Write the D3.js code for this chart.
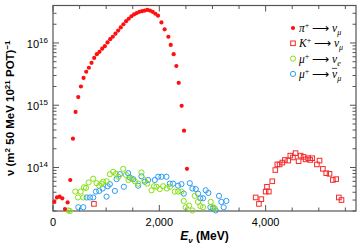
<!DOCTYPE html>
<html>
<head>
<meta charset="utf-8">
<script src="https://cdn.jsdelivr.net/npm/d3@7"></script>
<style>
  body { margin: 0; background: #fff; }
  svg { display: block; }
</style>
</head>
<body>
<svg width="363" height="250"></svg>
<script>
// neutrino energy (MeV) and flux per bin
var piE = [25,75,125,175,225,275,325,375,425,475,525,575,625,675,725,775,825,875,925,975,
  1025,1075,1125,1175,1225,1275,1325,1375,1425,1475,1525,1575,1625,1675,1725,1775,1825,1875,1925,1975,
  2040,2100,2170,2215,2270,2320,2365,2420,2465,2520];
var piFlux = [2.8e13,3.3e13,3.4e13,3.2e13,2.15e13,2.75e13,6.3e13,2.9e14,7.8e14,1.35e15,2.0e15,2.75e15,3.45e15,4.0e15,4.8e15,5.75e15,6.6e15,7.2e15,8.1e15,8.9e15,
  1.02e16,1.15e16,1.26e16,1.41e16,1.58e16,1.78e16,2.0e16,2.24e16,2.45e16,2.69e16,2.88e16,3.02e16,3.16e16,3.24e16,3.31e16,3.39e16,3.31e16,3.16e16,2.95e16,2.75e16,
  2.14e16,1.66e16,1.26e16,9.3e15,6.6e15,4.27e15,2.29e15,9.8e14,3.9e14,9.5e13];

var kE = [770,3812,3874,3919,4000,4025,4060,4125,4182,4220,4263,4314,4363,4426,4464,4514,4563,4620,4658,4714,
  4752,4802,4840,4877,4964,5014,5077,5140,5202,5265,5327,5377,5427];
var kFlux = [2.6e13,3.3e13,2.6e13,3.1e13,4.1e13,4.9e13,4.1e13,6.0e13,9.1e13,1.12e14,1.12e14,1.2e14,1.32e14,1.29e14,1.55e14,1.45e14,1.7e14,1.26e14,1.55e14,1.48e14,
  1.35e14,1.41e14,1.32e14,1.41e14,1.12e14,1.29e14,9.5e13,8.1e13,7.9e13,6.3e13,6.5e13,3.3e13,3.0e13];

var nueE = [288,319,419,470,520,570,582,620,670,757,820,870,914,945,1008,1070,1133,1183,1230,1321,
  1371,1420,1478,1540,1602,1664,1720,1771,1853,1900,1947,2009,2071,2140,2200,2291,2353,2416,2460,2497,
  2560,2623,2667,2729,2773,2823,2967,3011,3042];
var nueFlux = [2.04e13,2.0e13,4.1e13,3.3e13,4.1e13,3.3e13,4.8e13,4.7e13,5.75e13,6.6e13,5.6e13,5.1e13,5.5e13,5.9e13,6.0e13,7.8e13,8.5e13,7.9e13,7.1e13,9.5e13,
  7.6e13,6.3e13,6.6e13,6.0e13,5.5e13,8.3e13,6.3e13,5.5e13,4.3e13,5.0e13,4.9e13,4.5e13,5.0e13,4.6e13,4.9e13,4.1e13,4.1e13,4.1e13,2.9e13,2.3e13,
  2.45e13,2.04e13,3.5e13,2.8e13,2.4e13,2.3e13,2.8e13,2.3e13,2.2e13];

var numubE = [476,570,633,695,757,808,870,933,1008,1030,1070,1164,1196,1258,1333,1414,1446,1508,1602,1664,
  1727,1790,1915,1978,2040,2134,2197,2259,2353,2416,2460,2573,2623,2686,2729,2773,2823,2873,2923,2961,
  3011,3061,3123,3167,3211,3261];
var numubFlux = [2.3e13,2.3e13,3.3e13,3.3e13,3.3e13,4.1e13,4.2e13,4.6e13,3.4e13,5.0e13,5.4e13,4.2e13,6.5e13,7.8e13,4.9e13,8.1e13,6.9e13,6.5e13,5.1e13,7.2e13,
  5.9e13,6.3e13,6.3e13,7.1e13,7.1e13,7.1e13,5.5e13,5.5e13,5.1e13,5.4e13,3.8e13,5.6e13,4.6e13,4.5e13,3.8e13,3.2e13,3.2e13,4.3e13,3.9e13,2.3e13,
  2.2e13,2.04e13,3.5e13,2.8e13,2.3e13,2.9e13];

var xTicks = [0, 2000, 4000];
var yTicks = [1e14, 1e15, 1e16];

var svg = d3.select("svg");
var margin = {top: 5.5, right: 7, bottom: 39, left: 53};
var W = 363, H = 250;
var width = W - margin.left - margin.right;
var height = H - margin.top - margin.bottom;
var g = svg.append("g").attr("transform", "translate(" + margin.left + "," + margin.top + ")");

var x = d3.scaleLinear().domain([0, 5700]).range([0, width]);
var y = d3.scaleLog().domain([2e13, 4e16]).range([height, 0]);

var frame = "#555";
var minorX = d3.range(0, 5701, 500);
var minorY = [];
[13, 14, 15, 16].forEach(function(p){
    for (var m = 1; m < 10; m++){
        var v = m * Math.pow(10, p);
        if (v >= 2e13 && v <= 4e16) minorY.push(v);
    }
});

// ticks, all pointing inward
var tk = g.append("g").attr("stroke", frame).attr("stroke-width", 1);
minorX.forEach(function(v){
    var len = (v % 2000 == 0) ? 6 : 3.5;
    tk.append("line").attr("x1", x(v)).attr("x2", x(v)).attr("y1", height).attr("y2", height - len);
    tk.append("line").attr("x1", x(v)).attr("x2", x(v)).attr("y1", 0).attr("y2", len);
});
minorY.forEach(function(v){
    var major = yTicks.indexOf(v) >= 0;
    var len = major ? 6 : 3.5;
    tk.append("line").attr("x1", 0).attr("x2", len).attr("y1", y(v)).attr("y2", y(v));
    tk.append("line").attr("x1", width).attr("x2", width - len).attr("y1", y(v)).attr("y2", y(v));
});

g.append("rect").attr("width", width).attr("height", height)
    .attr("fill", "none").attr("stroke", frame).attr("stroke-width", 1.2);

// tick labels
g.selectAll(".xl").data(xTicks).enter().append("text")
    .attr("x", function(d){ return x(d); })
    .attr("y", height + 15)
    .attr("text-anchor", "middle")
    .attr("font-family", "Liberation Sans, Arial, sans-serif")
    .attr("font-size", 11)
    .text(function(d){ return d3.format(",")(d); });

var yl = g.selectAll(".yl").data(yTicks).enter().append("text")
    .attr("x", -5)
    .attr("y", function(d){ return y(d) + 5; })
    .attr("text-anchor", "end")
    .attr("font-family", "Liberation Sans, Arial, sans-serif")
    .attr("font-size", 11);
yl.append("tspan").text("10");
yl.append("tspan").attr("dy", -5).attr("font-size", 8)
    .text(function(d){ return Math.round(Math.log10(d)); });

// series
function circles(E, F, col){
    g.append("g").selectAll("circle").data(E).enter().append("circle")
        .attr("cx", function(d){ return x(d); })
        .attr("cy", function(d, i){ return y(F[i]); })
        .attr("r", 2.6)
        .attr("fill", "none").attr("stroke", col).attr("stroke-width", 1);
}
circles(numubE, numubFlux, "#2b9cf2");
circles(nueE, nueFlux, "#86e010");

g.append("g").selectAll("rect").data(kE).enter().append("rect")
    .attr("x", function(d){ return x(d) - 2.3; })
    .attr("y", function(d, i){ return y(kFlux[i]) - 2.3; })
    .attr("width", 4.6).attr("height", 4.6)
    .attr("fill", "none").attr("stroke", "#f52a2a").attr("stroke-width", 1);

g.append("g").selectAll("circle").data(piE).enter().append("circle")
    .attr("cx", function(d){ return x(d); })
    .attr("cy", function(d, i){ return y(piFlux[i]); })
    .attr("r", 2.1)
    .attr("fill", "#ff1010");

// axis titles
var xt = svg.append("text")
    .attr("x", margin.left + width / 2).attr("y", 240)
    .attr("text-anchor", "middle")
    .attr("font-family", "Liberation Sans, Arial, sans-serif")
    .attr("font-size", 12).attr("font-weight", "bold");
xt.append("tspan").attr("font-style", "italic").text("E");
xt.append("tspan").attr("dy", 3).attr("font-size", 8).attr("font-style", "italic").text("ν");
xt.append("tspan").attr("dy", -3).text(" (MeV)");

var yt = svg.append("text")
    .attr("transform", "translate(14," + (margin.top + height / 2) + ") rotate(-90)")
    .attr("text-anchor", "middle")
    .attr("font-family", "Liberation Sans, Arial, sans-serif")
    .attr("font-size", 11.5).attr("font-weight", "bold");
yt.append("tspan").text("ν (m");
yt.append("tspan").attr("dy", -4).attr("font-size", 8).text("2");
yt.append("tspan").attr("dy", 4).text(" 50 MeV 10");
yt.append("tspan").attr("dy", -4).attr("font-size", 8).text("21");
yt.append("tspan").attr("dy", 4).text(" POT)");
yt.append("tspan").attr("dy", -4).attr("font-size", 8).text("−1");

// legend
var legend = [
    {sym: "dot", col: "#ff1010", p: "π", n: "ν", s: "μ", bar: false},
    {sym: "sq", col: "#f52a2a", p: "K", n: "ν", s: "μ", bar: false},
    {sym: "ring", col: "#86e010", p: "μ", n: "ν", s: "e", bar: false},
    {sym: "ring", col: "#2b9cf2", p: "μ", n: "ν", s: "μ", bar: true}
];
var lg = svg.append("g").attr("transform", "translate(293,28)");
legend.forEach(function(d, i){
    var row = lg.append("g").attr("transform", "translate(0," + (i * 15.3) + ")");
    if (d.sym == "dot") row.append("circle").attr("r", 2.1).attr("fill", d.col);
    if (d.sym == "sq") row.append("rect").attr("x", -2.3).attr("y", -2.3).attr("width", 4.6).attr("height", 4.6)
        .attr("fill", "none").attr("stroke", d.col);
    if (d.sym == "ring") row.append("circle").attr("r", 2.6).attr("fill", "none").attr("stroke", d.col);
    var t = row.append("text").attr("x", 6).attr("y", 4)
        .attr("font-family", "Liberation Serif, Times New Roman, serif")
        .attr("font-size", 11.5);
    t.append("tspan").attr("font-style", "italic").text(d.p);
    t.append("tspan").attr("dy", -4).attr("font-size", 8).text("+");
    t.append("tspan").attr("dy", 4).text(" ⟶ ");
    var nu = t.append("tspan").attr("font-style", "italic").text(d.n);
    t.append("tspan").attr("dy", 3).attr("font-size", 8).attr("font-style", "italic").text(d.s);
    if (d.bar){
        var bb = nu.node().getBBox ? null : null;
        var ext = nu.node().getExtentOfChar ? nu.node().getExtentOfChar(0) : null;
        if (ext) row.append("line").attr("x1", ext.x).attr("x2", ext.x + ext.width)
            .attr("y1", ext.y + 0.5).attr("y2", ext.y + 0.5).attr("stroke", "#222").attr("stroke-width", 0.8);
    }
});
</script>
</body>
</html>
